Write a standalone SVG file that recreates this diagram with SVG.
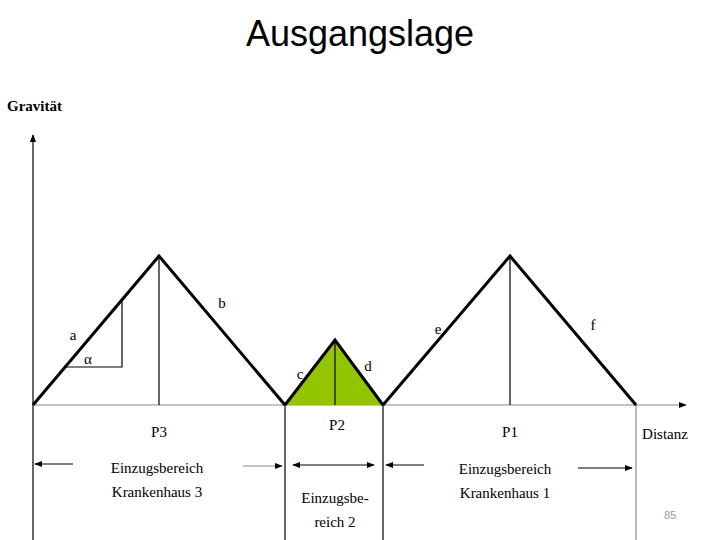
<svg xmlns="http://www.w3.org/2000/svg" width="720" height="540" viewBox="0 0 720 540">
<style>
.t{font-family:"Liberation Serif",serif;font-size:15px;fill:#000;text-anchor:middle}
.th{stroke:#000;stroke-width:3;fill:none;stroke-linejoin:miter}
.tn{stroke:#000;stroke-width:1.2;fill:none}
.g{stroke:#888;stroke-width:1.2;fill:none}
</style>
<defs>
<marker id="ah" viewBox="0 0 10 10" refX="9" refY="5" markerWidth="8" markerHeight="8" orient="auto-start-reverse" markerUnits="userSpaceOnUse"><path d="M0,1 L10,5 L0,9 z" fill="#000"/></marker>
</defs>
<rect width="720" height="540" fill="#fff"/>
<text x="360" y="46" font-family="Liberation Sans,sans-serif" font-size="36" text-anchor="middle">Ausgangslage</text>
<text x="7" y="111" font-family="Liberation Serif,serif" font-size="15" font-weight="bold">Gravität</text>
<g id="connectors">
<line class="tn" x1="33" y1="540" x2="33" y2="135" marker-end="url(#ah)"/>
<line class="g" x1="33" y1="405" x2="686" y2="405" marker-end="url(#ah)"/>
<line class="tn" x1="285" y1="405" x2="285" y2="540"/>
<line class="tn" x1="383" y1="405" x2="383" y2="540"/>
<line class="g" x1="636" y1="405" x2="636" y2="540"/>
<line class="tn" x1="73" y1="464" x2="35" y2="464" marker-end="url(#ah)"/>
<line class="g" x1="243" y1="466" x2="282" y2="466" marker-end="url(#ah)"/>
<line class="tn" x1="293" y1="465" x2="374" y2="465" marker-start="url(#ah)" marker-end="url(#ah)"/>
<line class="tn" x1="424" y1="465" x2="386" y2="465" marker-end="url(#ah)"/>
<line class="tn" x1="578" y1="468" x2="632" y2="468" marker-end="url(#ah)"/>
</g>
<g id="hospital3">
<polyline class="th" points="33,405 159,256 285,405"/>
<line class="tn" x1="159" y1="256" x2="159" y2="405"/>
<polyline class="tn" points="65,367 122,367 122,301"/>
<text class="t" x="73" y="340">a</text>
<text class="t" x="88" y="364">α</text>
<text class="t" x="222" y="308">b</text>
<text class="t" x="159" y="437">P3</text>
<text class="t" x="157" y="473">Einzugsbereich</text>
<text class="t" x="157" y="497">Krankenhaus 3</text>
</g>
<g id="hospital2">
<polygon points="286,405 335,340 383,405" fill="#92c400"/>
<polyline class="th" points="285,405 335,340 383,405"/>
<line class="tn" x1="335" y1="340" x2="335" y2="405"/>
<text class="t" x="300" y="379">c</text>
<text class="t" x="368" y="371">d</text>
<text class="t" x="337" y="430">P2</text>
<text class="t" x="335" y="503">Einzugsbe-</text>
<text class="t" x="335" y="527">reich 2</text>
</g>
<g id="hospital1">
<polyline class="th" points="383,405 510,256 636,405"/>
<line class="tn" x1="510" y1="256" x2="510" y2="405"/>
<text class="t" x="438" y="334">e</text>
<text class="t" x="593" y="330">f</text>
<text class="t" x="510" y="437">P1</text>
<text class="t" x="505" y="474">Einzugsbereich</text>
<text class="t" x="505" y="498">Krankenhaus 1</text>
<text class="t" x="665" y="439">Distanz</text>
</g>
<text x="670" y="519" font-family="Liberation Sans,sans-serif" font-size="11" fill="#999" text-anchor="middle">85</text>
</svg>
